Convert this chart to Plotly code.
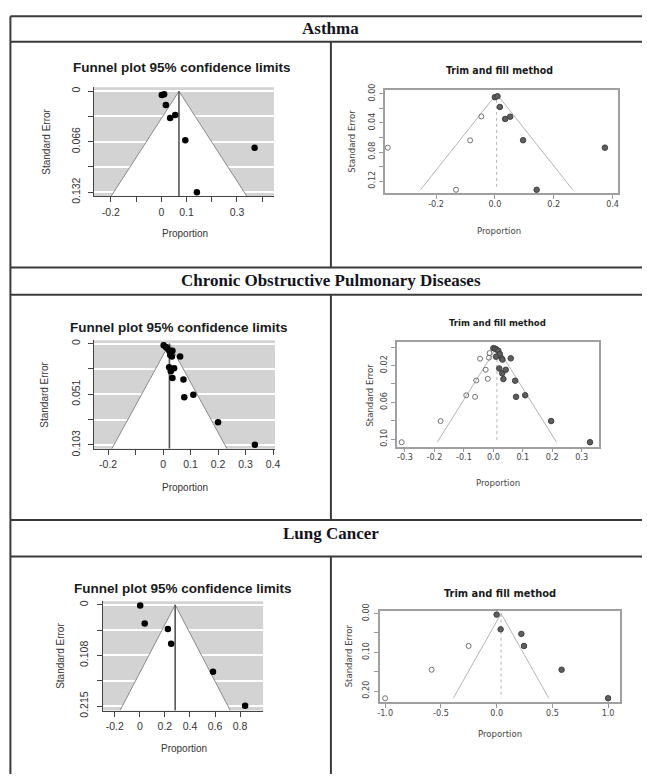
import plotly.graph_objects as go

W, H = 647, 782

# ---------------- data ----------------
# Asthma
asthma_prop = [0.002, 0.011, 0.018, 0.035, 0.055, 0.095, 0.370, 0.141]
asthma_se = [0.005, 0.004, 0.018, 0.035, 0.031, 0.064, 0.074, 0.132]
asthma_pooled = 0.07
asthma_funnel_se = 0.137

asthma_tf_obs_prop = [0.000, 0.009, 0.017, 0.035, 0.052, 0.096, 0.374, 0.142]
asthma_tf_obs_se = [0.0045, 0.0033, 0.018, 0.0345, 0.0314, 0.0638, 0.074, 0.132]
asthma_tf_fill_prop = [-0.046, -0.084, -0.364, -0.132]
asthma_tf_fill_se = [0.031, 0.064, 0.074, 0.132]
asthma_tf_center = 0.006

# COPD
copd_prop = [0.002, 0.010, 0.016, 0.022, 0.029, 0.034, 0.026, 0.032, 0.062, 0.022,
             0.040, 0.028, 0.034, 0.074, 0.077, 0.110, 0.200, 0.334]
copd_se = [0.0016, 0.0033, 0.005, 0.0073, 0.009, 0.0073, 0.0116, 0.013, 0.013, 0.024,
           0.025, 0.028, 0.035, 0.0365, 0.0544, 0.0521, 0.080, 0.103]
copd_pooled = 0.023
copd_funnel_se = 0.107

copd_tf_obs_prop = [0.000, 0.006, 0.011, 0.017, 0.022, 0.009, 0.028, 0.031, 0.059, 0.020,
                    0.030, 0.042, 0.034, 0.074, 0.077, 0.108, 0.196, 0.328]
copd_tf_obs_se = [0.0012, 0.0016, 0.0027, 0.004, 0.0076, 0.0104, 0.0122, 0.0136, 0.0122, 0.0232,
                  0.0285, 0.0246, 0.0347, 0.0365, 0.054, 0.0523, 0.0803, 0.1033]
copd_tf_fill_prop = [-0.013, -0.015, -0.045, -0.026, -0.019, -0.058, -0.092, -0.062, -0.179, -0.311]
copd_tf_fill_se = [0.0065, 0.0115, 0.0126, 0.0246, 0.0345, 0.0363, 0.0523, 0.054, 0.0803, 0.1033]
copd_tf_center = 0.012

# Lung cancer
lung_prop = [0.003, 0.039, 0.224, 0.250, 0.584, 0.840]
lung_se = [0.0015, 0.0395, 0.0514, 0.0826, 0.1422, 0.2142]
lung_pooled = 0.282
lung_funnel_se = 0.2246

lung_tf_obs_prop = [0.000, 0.036, 0.222, 0.246, 0.583, 1.000]
lung_tf_obs_se = [0.0025, 0.0405, 0.0524, 0.0835, 0.145, 0.2187]
lung_tf_fill_prop = [-0.251, -0.583, -1.000]
lung_tf_fill_se = [0.0835, 0.145, 0.2187]
lung_tf_center = 0.04

# ticks
asthma_l_xticks = [-0.2, -0.1, 0, 0.1, 0.2, 0.3, 0.4]
asthma_l_xlabels = ['-0.2', '', '0', '0.1', '', '0.3', '']
asthma_l_yticks = [0, 0.033, 0.066, 0.099, 0.132]
asthma_l_ylabels = ['0', '', '0.066', '', '0.132']
asthma_r_xticks = [-0.2, 0, 0.2, 0.4]
asthma_r_xlabels = ['-0.2', '0.0', '0.2', '0.4']
asthma_r_yticks = [0, 0.02, 0.04, 0.06, 0.08, 0.10, 0.12]
asthma_r_ylabels = ['0.00', '', '0.04', '', '0.08', '', '0.12']

copd_l_xticks = [-0.2, -0.1, 0, 0.1, 0.2, 0.3, 0.4]
copd_l_xlabels = ['-0.2', '', '0', '0.1', '0.2', '0.3', '0.4']
copd_l_yticks = [0, 0.02575, 0.0515, 0.07725, 0.103]
copd_l_ylabels = ['0', '', '0.051', '', '0.103']
copd_r_xticks = [-0.3, -0.2, -0.1, 0, 0.1, 0.2, 0.3]
copd_r_xlabels = ['-0.3', '-0.2', '-0.1', '0.0', '0.1', '0.2', '0.3']
copd_r_yticks = [0, 0.02, 0.04, 0.06, 0.08, 0.10]
copd_r_ylabels = ['', '0.02', '', '0.06', '', '0.10']

lung_l_xticks = [-0.2, 0, 0.2, 0.4, 0.6, 0.8]
lung_l_xlabels = ['-0.2', '0', '0.2', '0.4', '0.6', '0.8']
lung_l_yticks = [0, 0.05375, 0.1075, 0.16125, 0.215]
lung_l_ylabels = ['0', '', '0.108', '', '0.215']
lung_r_xticks = [-1.0, -0.5, 0, 0.5, 1.0]
lung_r_xlabels = ['-1.0', '-0.5', '0.0', '0.5', '1.0']
lung_r_yticks = [0, 0.05, 0.10, 0.15, 0.20]
lung_r_ylabels = ['0.00', '', '0.10', '', '0.20']

row_titles = ['Asthma', 'Chronic Obstructive Pulmonary Diseases', 'Lung Cancer']
left_title = 'Funnel plot 95% confidence limits'
right_title = 'Trim and fill method'
x_title = 'Proportion'
y_title = 'Standard Error'

# ---------------- helpers ----------------
def fx(px):
    return px / W

def fy(py):
    return 1 - py / H

SANS = 'Liberation Sans, Arial, sans-serif'
NARROW = 'Liberation Sans Narrow, DejaVu Sans Condensed, Liberation Sans, Arial, sans-serif'
SERIF = 'Liberation Serif, Times New Roman, serif'

fig = go.Figure()
layout = dict(width=W, height=H, autosize=False, margin=dict(l=0, r=0, t=0, b=0),
              paper_bgcolor='white', plot_bgcolor='white', showlegend=False,
              shapes=[], annotations=[])

left_panels = [
    dict(box=(93, 81, 275, 192), xr=[-0.267, 0.447], yr=[0.137, -0.0051],
         xt=asthma_l_xticks, xl=asthma_l_xlabels, yt=asthma_l_yticks, yl=asthma_l_ylabels,
         p=asthma_prop, s=asthma_se, mu=asthma_pooled, smax=asthma_funnel_se,
         title=(181.5, 61), ytitle=(45, 137), xtitle=(185, 230)),
    dict(box=(92.7, 339.3, 276, 450), xr=[-0.2526, 0.4073], yr=[0.107, -0.0034],
         xt=copd_l_xticks, xl=copd_l_xlabels, yt=copd_l_yticks, yl=copd_l_ylabels,
         p=copd_prop, s=copd_se, mu=copd_pooled, smax=copd_funnel_se,
         title=(179, 325.7), ytitle=(43.3, 395), xtitle=(185.5, 489.3)),
    dict(box=(101.7, 605.7, 264, 717.3), xr=[-0.297, 0.984], yr=[0.2246, -0.0075],
         xt=lung_l_xticks, xl=lung_l_xlabels, yt=lung_l_yticks, yl=lung_l_ylabels,
         p=lung_prop, s=lung_se, mu=lung_pooled, smax=lung_funnel_se,
         title=(182.5, 593), ytitle=(58.3, 661.7), xtitle=(184, 756)),
]

right_panels = [
    dict(box=(387.3, 83.3, 622.3, 189.3), xr=[-0.373, 0.417], yr=[0.137, -0.0059],
         xt=asthma_r_xticks, xl=asthma_r_xlabels, yt=asthma_r_yticks, yl=asthma_r_ylabels,
         op=asthma_tf_obs_prop, os=asthma_tf_obs_se, fp=asthma_tf_fill_prop, fs=asthma_tf_fill_se,
         c=asthma_tf_center, title=(502.5, 63), tsize=10.5,
         ytitle=(353.3, 136), xtitle=(502.7, 227.3)),
    dict(box=(399.3, 341, 604, 447.7), xr=[-0.327, 0.360], yr=[0.108, -0.0055],
         xt=copd_r_xticks, xl=copd_r_xlabels, yt=copd_r_yticks, yl=copd_r_ylabels,
         op=copd_tf_obs_prop, os=copd_tf_obs_se, fp=copd_tf_fill_prop, fs=copd_tf_fill_se,
         c=copd_tf_center, title=(501, 320.7), tsize=9.5,
         ytitle=(371.7, 395), xtitle=(501.7, 484)),
    dict(box=(381.7, 616, 625, 709), xr=[-1.05, 1.109], yr=[0.2296, -0.0058],
         xt=lung_r_xticks, xl=lung_r_xlabels, yt=lung_r_yticks, yl=lung_r_ylabels,
         op=lung_tf_obs_prop, os=lung_tf_obs_se, fp=lung_tf_fill_prop, fs=lung_tf_fill_se,
         c=lung_tf_center, title=(503, 597.3), tsize=11,
         ytitle=(350, 661.7), xtitle=(503.3, 740.7)),
]

idx = 0


def axis_names(i):
    return ('x' if i == 1 else f'x{i}', 'y' if i == 1 else f'y{i}',
            'xaxis' if i == 1 else f'xaxis{i}', 'yaxis' if i == 1 else f'yaxis{i}')


def ann(text, x, y, size, family, color='#222', bold=False, angle=0):
    t = f'<b>{text}</b>' if bold else text
    layout['annotations'].append(dict(text=t, x=fx(x), y=fy(y), xref='paper', yref='paper',
                                      xanchor='center', yanchor='middle', showarrow=False,
                                      textangle=angle,
                                      font=dict(size=size, family=family, color=color)))


for pnl in left_panels:
    idx += 1
    xa, ya, xk, yk = axis_names(idx)
    x0, y0, x1, y1 = pnl['box']
    mu, sm = pnl['mu'], pnl['smax']
    # funnel (white region) with gray edges
    fig.add_trace(go.Scatter(x=[mu - 1.96 * sm, mu, mu + 1.96 * sm], y=[sm, 0, sm],
                             mode='lines', fill='toself', fillcolor='white',
                             line=dict(color='#8a8a8a', width=1), xaxis=xa, yaxis=ya,
                             hoverinfo='skip'))
    fig.add_trace(go.Scatter(x=[mu, mu], y=[0, sm], mode='lines',
                             line=dict(color='#555555', width=1.6), xaxis=xa, yaxis=ya,
                             hoverinfo='skip'))
    fig.add_trace(go.Scatter(x=pnl['p'], y=pnl['s'], mode='markers',
                             marker=dict(color='black', size=6.5, line=dict(width=0)),
                             xaxis=xa, yaxis=ya, cliponaxis=False))
    layout[xk] = dict(domain=[fx(x0), fx(x1)], range=pnl['xr'], anchor=ya,
                      tickvals=pnl['xt'], ticktext=pnl['xl'], ticks='outside', ticklen=5,
                      tickcolor='#444', tickwidth=1, showline=True, linecolor='#444', linewidth=1,
                      showgrid=False, zeroline=False, ticklabelstandoff=1,
                      tickfont=dict(size=10.5, family=SANS, color='#333'))
    layout[yk] = dict(domain=[fy(y1), fy(y0)], range=pnl['yr'], anchor=xa,
                      tickvals=pnl['yt'], ticktext=pnl['yl'], ticks='outside', ticklen=5,
                      tickcolor='#444', tickwidth=1, showline=True, linecolor='#444', linewidth=1,
                      showgrid=True, gridcolor='white', gridwidth=1.5, zeroline=False,
                      tickangle=-90, ticklabelstandoff=4,
                      tickfont=dict(size=10.5, family=SANS, color='#333'))
    layout['shapes'].append(dict(type='rect', xref=f'{xa} domain', yref=f'{ya} domain',
                                 x0=0, x1=1, y0=0, y1=1, fillcolor='#d3d3d3',
                                 line=dict(width=0), layer='below'))
    ann(left_title, *pnl['title'], 13.5, SANS, '#1a1a1a', bold=True)
    ann(y_title, *pnl['ytitle'], 10, SANS, '#333', angle=-90)
    ann(x_title, *pnl['xtitle'], 10, SANS, '#333')

for pnl in right_panels:
    idx += 1
    xa, ya, xk, yk = axis_names(idx)
    x0, y0, x1, y1 = pnl['box']
    c = pnl['c']
    m = max(pnl['os'] + pnl['fs'])
    fig.add_trace(go.Scatter(x=[c - 1.96 * m, c, c + 1.96 * m], y=[m, 0, m], mode='lines',
                             line=dict(color='#b4b4b4', width=1), xaxis=xa, yaxis=ya,
                             hoverinfo='skip'))
    fig.add_trace(go.Scatter(x=[c, c], y=[0, m], mode='lines',
                             line=dict(color='#b4b4b4', width=1, dash='dot'), xaxis=xa, yaxis=ya,
                             hoverinfo='skip'))
    fig.add_trace(go.Scatter(x=pnl['fp'], y=pnl['fs'], mode='markers',
                             marker=dict(symbol='circle-open', color='#707070', size=5,
                                         line=dict(width=1, color='#707070')),
                             xaxis=xa, yaxis=ya, cliponaxis=False))
    fig.add_trace(go.Scatter(x=pnl['op'], y=pnl['os'], mode='markers',
                             marker=dict(color='#5e5e5e', size=5.5,
                                         line=dict(width=1, color='#3f3f3f')),
                             xaxis=xa, yaxis=ya, cliponaxis=False))
    layout[xk] = dict(domain=[fx(x0), fx(x1)], range=pnl['xr'], anchor=ya,
                      tickvals=pnl['xt'], ticktext=pnl['xl'], ticks='outside', ticklen=4,
                      tickcolor='#999', tickwidth=1, showline=True, mirror=True,
                      linecolor='#a0a0a0', linewidth=1.5,
                      showgrid=False, zeroline=False, ticklabelstandoff=-3,
                      tickfont=dict(size=9, family=NARROW, color='#444'))
    layout[yk] = dict(domain=[fy(y1), fy(y0)], range=pnl['yr'], anchor=xa,
                      tickvals=pnl['yt'], ticktext=pnl['yl'], ticks='outside', ticklen=4,
                      tickcolor='#999', tickwidth=1, showline=True, mirror=True,
                      linecolor='#a0a0a0', linewidth=1.5,
                      showgrid=False, zeroline=False, tickangle=-90, ticklabelstandoff=1,
                      tickfont=dict(size=9, family=NARROW, color='#444'))
    ann(right_title, *pnl['title'], pnl['tsize'], NARROW, '#1a1a1a', bold=True)
    ann(y_title, *pnl['ytitle'], 9.5, NARROW, '#444', angle=-90)
    ann(x_title, *pnl['xtitle'], 9.5, NARROW, '#444')

# ---------------- table frame ----------------
LC = '#3a3a3a'


def hline(py, x0=8.5, x1=647):
    layout['shapes'].append(dict(type='line', xref='paper', yref='paper', x0=fx(x0), x1=fx(x1),
                                 y0=fy(py), y1=fy(py), line=dict(color=LC, width=2)))


def vline(px, y0, y1):
    layout['shapes'].append(dict(type='line', xref='paper', yref='paper', x0=fx(px), x1=fx(px),
                                 y0=fy(y0), y1=fy(y1), line=dict(color=LC, width=2)))


for py in [8.5, 34.5, 265, 292.7, 522.7, 560]:
    hline(py)
vline(8.5, 8.5, 782)
vline(332.5, 34.5, 265)
vline(332.5, 292.7, 522.7)
vline(332.5, 560, 782)

for title, py in zip(row_titles, [21, 278, 536]):
    ann(title, 332.5, py, 17, SERIF, '#141420', bold=True)

fig.update_layout(**layout)
fig.write_html('out.html', config={'displayModeBar': False},
               post_script="document.body.style.margin='0px';document.body.style.overflow='hidden';")
